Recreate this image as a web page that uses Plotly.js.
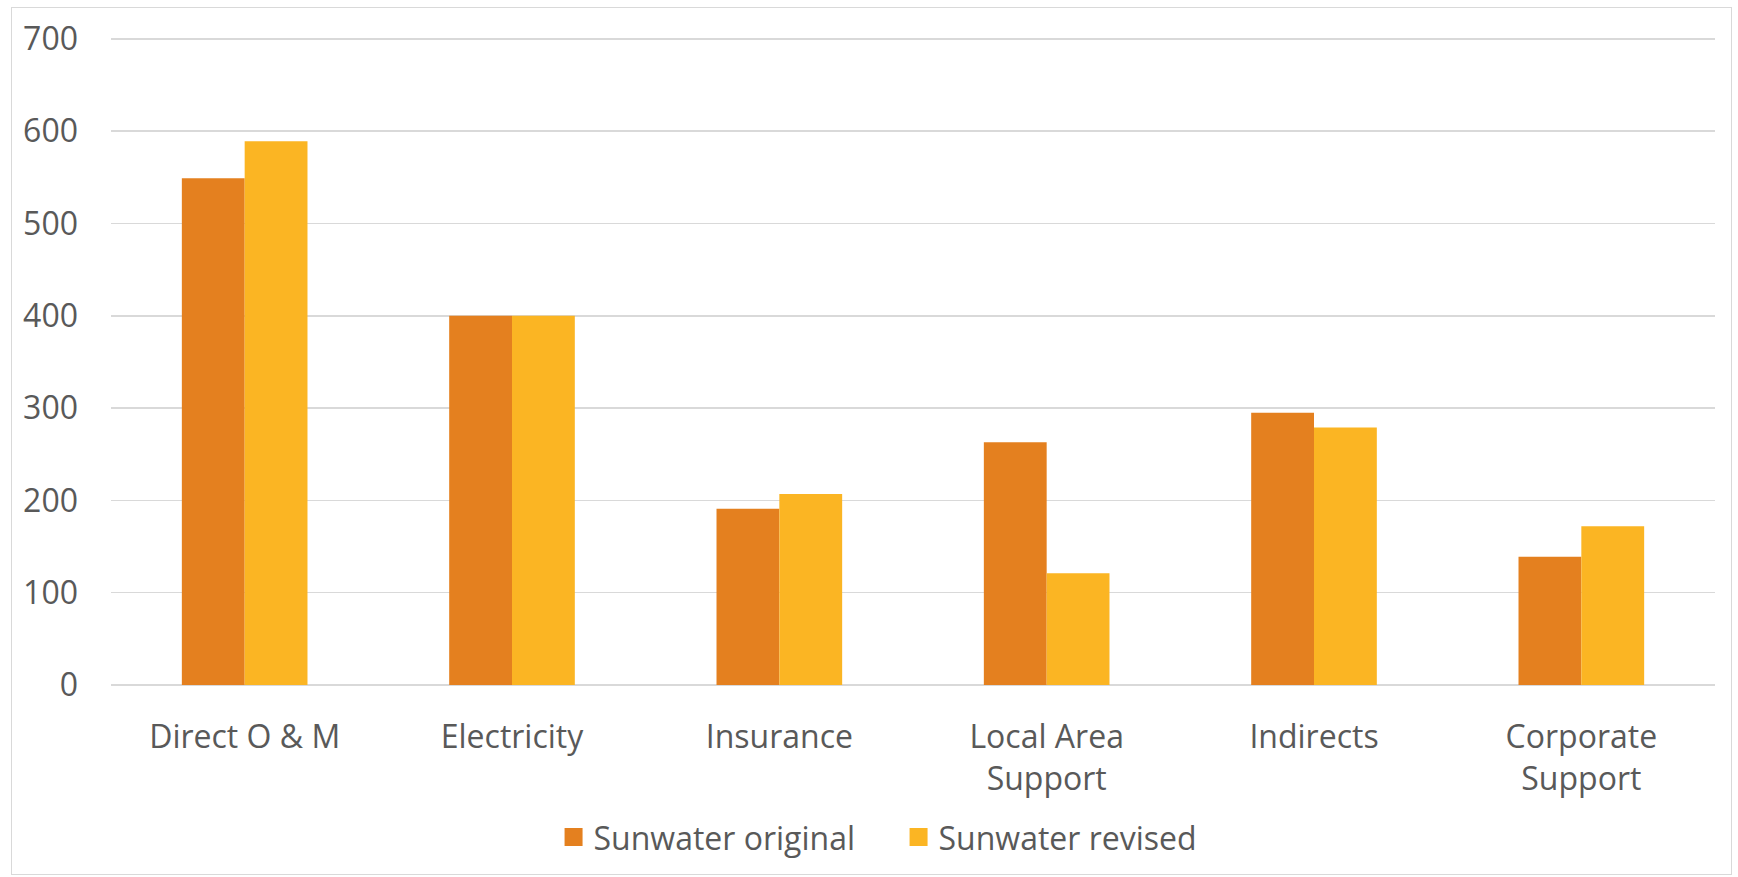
<!DOCTYPE html>
<html>
<head>
<meta charset="utf-8">
<script src="https://cdn.plot.ly/plotly-3.0.1.min.js"></script>
<style>
  html, body { margin: 0; padding: 0; background: #ffffff; }
  #wrap { position: relative; width: 1738px; height: 877px; }
  #chart { width: 1738px; height: 877px; }
  #frame { position: absolute; left: 11px; top: 7px; width: 1721px; height: 868px;
           border: 1.5px solid #d9d9d9; pointer-events: none; box-sizing: border-box; }
</style>
</head>
<body>
<div id="wrap">
  <div id="chart"></div>
  <div id="frame"></div>
</div>
<script>
const categories = ["Direct O & M", "Electricity", "Insurance", "Local Area<br>Support", "Indirects", "Corporate<br>Support"];
const seriesNames = ["Sunwater original", "Sunwater revised"];
const sunwaterOriginal = [549, 400, 191, 263, 295, 139];
const sunwaterRevised = [589, 400, 207, 121, 279, 172];
const yTicks = [0, 100, 200, 300, 400, 500, 600, 700];

const textColor = "#595959";
const gridColor = "#d9d9d9";
const fontFamily = "'Open Sans', 'Liberation Sans', sans-serif";
const fs = 32;

const traces = [
  { type: "bar", name: seriesNames[0], x: categories, y: sunwaterOriginal,
    marker: { color: "#E4801F", line: { width: 0 } }, hoverinfo: "x+y" },
  { type: "bar", name: seriesNames[1], x: categories, y: sunwaterRevised,
    marker: { color: "#FBB523", line: { width: 0 } }, hoverinfo: "x+y" }
];

const layout = {
  width: 1738, height: 877,
  margin: { l: 111, r: 23, t: 37, b: 190 },
  paper_bgcolor: "#ffffff", plot_bgcolor: "#ffffff",
  font: { family: fontFamily, size: fs, color: textColor },
  barmode: "group", bargap: 0.53, bargroupgap: 0,
  showlegend: true,
  legend: { orientation: "h", x: 0.491, xanchor: "center", y: -0.235, yanchor: "middle",
            font: { size: fs, color: textColor }, traceorder: "normal", entrywidth: 300 },
  xaxis: { type: "category", showgrid: false, showline: false, ticks: "",
           ticklabelstandoff: 30,
           tickfont: { size: fs, color: textColor }, automargin: false },
  yaxis: { range: [0, 702], tickvals: yTicks, ticktext: yTicks.map(String),
           showgrid: true, gridcolor: gridColor, gridwidth: 1.5,
           zeroline: true, zerolinecolor: gridColor, zerolinewidth: 1.5,
           showline: false, ticks: "", ticklabelstandoff: 32,
           tickfont: { size: fs, color: textColor }, automargin: false, fixedrange: true }
};

Plotly.newPlot("chart", traces, layout, { displayModeBar: false, staticPlot: true }).then(function (gd) {
  gd.querySelectorAll(".legend .legendpoints path").forEach(function (p) {
    p.setAttribute("transform", "translate(20,0) scale(1.5)");
  });
});
</script>
</body>
</html>
